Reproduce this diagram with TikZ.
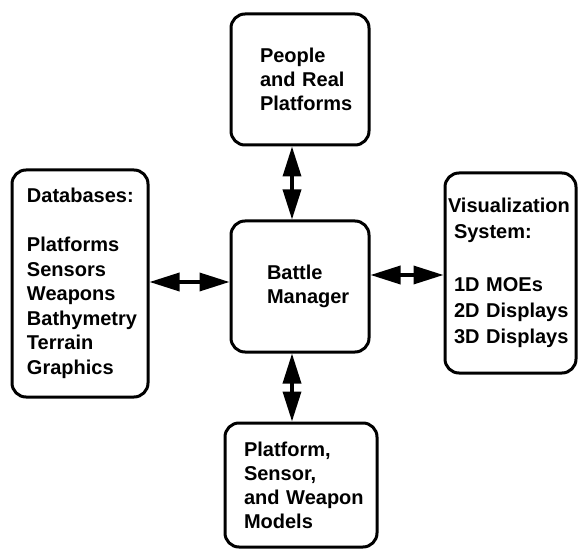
\documentclass[tikz,border=0pt]{standalone}
\usepackage{fontspec}
\setmainfont{Liberation Sans}
\usetikzlibrary{arrows.meta,positioning,calc}
\definecolor{ink}{RGB}{0,0,0}
\tikzset{
  every picture/.style={color=ink, line width=3pt, font=\bfseries\fontsize{20}{24}\selectfont},
  box/.style={draw=ink, rounded corners=14pt, fill=white, inner xsep=0pt, inner ysep=4pt, align=left,
    execute at begin node={\hyphenpenalty=10000\relax}},
  link/.style={{Triangle[length=30pt,width=18pt]}-{Triangle[length=30pt,width=18pt]}, line width=3.5pt},
}

\begin{document}
\begin{tikzpicture}[x=1pt, y=-1pt]
  \useasboundingbox (0,0) rectangle (578,553);
  \node[box, minimum width=138pt, minimum height=131pt, text width=80pt] (people) at (300,79.5) {People\\and~Real\\Platforms};
  \node[box, minimum width=136pt, minimum height=227pt, text width=106pt, font=\bfseries\fontsize{20}{24.5}\selectfont] (db) at (80,283.5) {Databases:\\[24.5pt]Platforms\\Sensors\\Weapons\\Bathymetry\\Terrain\\Graphics};
  \node[box, minimum width=138pt, minimum height=131pt, text width=66pt] (bm) at (300,286.5) {Battle\\Manager};
  \node[box, minimum width=131pt, minimum height=200pt, text width=113pt, font=\bfseries\fontsize{20}{26}\selectfont] (vis) at (510.5,273) {\hspace*{-6pt}Visualization\\System:\\[27pt]1D~MOEs\\2D~Displays\\3D~Displays};
  \node[box, minimum width=152pt, minimum height=124pt, text width=114pt] (models) at (301,485) {Platform,\\Sensor,\\and~Weapon\\Models};
  % connectors to the battle manager
  \draw[link] ([yshift=4.5pt]bm.west) -- ([yshift=4.5pt]bm.west -| db.east);
  \draw[link] ([yshift=11.5pt]bm.east) -- ([yshift=11.5pt]bm.east -| vis.west);
  \draw[link] ([xshift=-8pt]bm.north) -- ([xshift=-8pt]bm.north |- people.south);
  \draw[link] ([xshift=-8pt]bm.south) -- ([xshift=-8pt]bm.south |- models.north);
\end{tikzpicture}
\end{document}
